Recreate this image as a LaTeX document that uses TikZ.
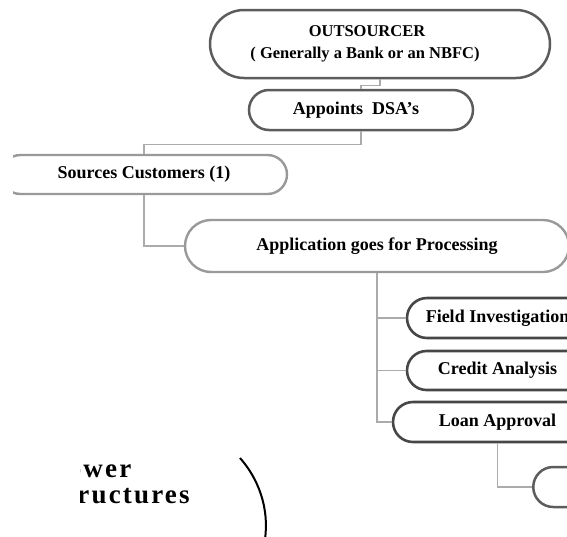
\documentclass[tikz,border=0pt]{standalone}
\usepackage{fontspec}
\setmainfont{Liberation Serif}
\newfontfamily\widefont[LetterSpace=8]{Liberation Serif}
\tikzset{
  pill/.style 2 args={draw, rectangle, inner sep=0pt, minimum width=#1pt,
    minimum height=#2pt, rounded corners=#2*0.5pt, align=center,
    font=\fontsize{18}{21}\selectfont\bfseries},
  darkpill/.style={draw=black!72, line width=2.6pt},
  midpill/.style={draw=black!64, line width=2.5pt},
  lightpill/.style={draw=black!40, line width=2.4pt},
  link/.style={draw=black!33, line width=1.2pt}
}
\begin{document}
\begin{tikzpicture}[x=1pt, y=-1pt]
  \useasboundingbox (0,0) rectangle (567,536);
  \clip (0,0) rectangle (567,536);

  % Top: the outsourcer and its DSA's
  \node[pill={340}{68}, midpill, font=\fontsize{16.5}{22}\selectfont\bfseries]
    (outs) at (380,44) {OUTSOURCER\hspace*{26pt}\\( Generally a Bank or an NBFC)\hspace*{30pt}};
  \node[pill={224}{40}, midpill] (dsa) at (361,110) {Appoints\ \ DSA's\hspace*{10pt}};

  % Sources customers (left end cut off)
  \begin{scope}
    \clip (13,140) rectangle (300,205);
    \node[pill={286}{39}, lightpill] (src) at (144,174.5) {Sources Customers (1)};
  \end{scope}

  % Processing
  \node[pill={384}{52}, lightpill] (app) at (377,246) {Application goes for Processing};

  % Processing steps
  \node[pill={181}{40}, darkpill] (fi) at (497.5,318) {Field Investigation};
  \node[pill={181}{39}, darkpill] (ca) at (497.5,370.5) {Credit Analysis};
  \node[pill={209}{40}, darkpill] (la) at (497.5,422) {Loan Approval};
  \node[pill={160}{40}, midpill, anchor=west] (nxt) at (532,487) {};

  % Connectors
  \draw[link] (outs.south) -- ++(0,6) -| (dsa.north);
  \draw[link] (dsa.south) -- ++(0,13) -| (src.north);
  \draw[link] (src.south) |- (app.west);
  \draw[link] (app.south) |- (fi.west);
  \draw[link] (app.south) |- (ca.west);
  \draw[link] (app.south) |- (la.west);
  \draw[link] (la.south) |- (nxt.west);

  % Power structures (cut off)
  \begin{scope}
    \clip (80,440) rectangle (240,520);
    \node[anchor=north west, align=left, inner sep=0pt,
      font=\widefont\fontsize{27}{26}\selectfont\bfseries] (pow) at (49,460) {Power\\Structures};
  \end{scope}
  \draw[line width=2pt] (240,458) .. controls (262,483) and (270,515) .. (264,545);
\end{tikzpicture}
\end{document}
